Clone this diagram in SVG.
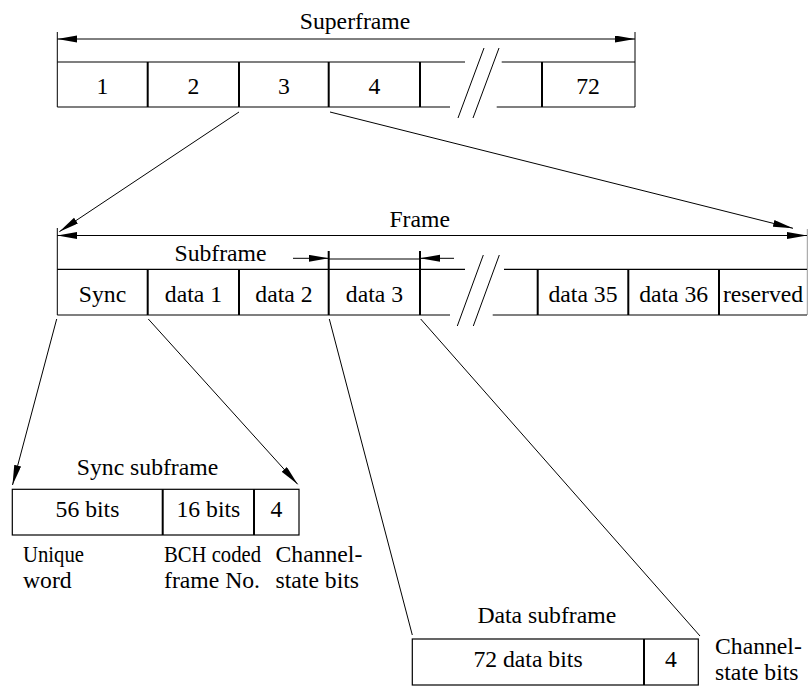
<svg xmlns="http://www.w3.org/2000/svg" width="808" height="686" viewBox="0 0 808 686">
<defs>
<marker id="ah" markerUnits="userSpaceOnUse" markerWidth="21" markerHeight="8" refX="20" refY="3.5" orient="auto-start-reverse">
<path d="M0,0 L20,3.5 L0,7 z" fill="#000"/>
</marker>
</defs>
<style>
text{font-family:"Liberation Serif","Times New Roman",serif;font-size:23.7px;fill:#000}
.c{text-anchor:middle}
.h{stroke:#000;stroke-width:1.2;fill:none}
.v{stroke:#000;stroke-width:2;fill:none}
.t{stroke:#000;stroke-width:1;fill:none}
</style>
<rect width="808" height="686" fill="#fff"/>

<g id="superframe">
<text class="c" x="355" y="29">Superframe</text>
<line class="t" x1="57.3" y1="32" x2="57.3" y2="107"/>
<line class="t" x1="635" y1="32" x2="635" y2="107"/>
<line class="t" x1="57.3" y1="39" x2="635" y2="39" marker-start="url(#ah)" marker-end="url(#ah)"/>
<path class="h" d="M57.3,62 H465 M501.7,62 H635 M57.3,107 H450 M496.7,107 H635"/>
<path class="t" d="M458,118 L484,48 M473,118 L499,48"/>
<path class="v" d="M147.7,62 V107 M239,62 V107 M328.7,62 V107 M420,62 V107 M542,62 V107"/>
<text class="c" x="102.5" y="94">1</text>
<text class="c" x="193.4" y="94">2</text>
<text class="c" x="283.9" y="94">3</text>
<text class="c" x="374.4" y="94">4</text>
<text class="c" x="588" y="94">72</text>
</g>

<g id="frame">
<text class="c" x="419.7" y="226.7">Frame</text>
<line class="t" x1="57.3" y1="228" x2="57.3" y2="315"/>
<line stroke="#999" stroke-width="1" x1="807.3" y1="229" x2="807.3" y2="315"/>
<line class="t" x1="57.3" y1="235.5" x2="807" y2="235.5" marker-start="url(#ah)" marker-end="url(#ah)"/>
<text class="c" x="220.5" y="261">Subframe</text>
<line class="t" x1="293" y1="258.3" x2="328.7" y2="258.3" marker-end="url(#ah)"/>
<line class="t" x1="328.7" y1="259" x2="420" y2="259"/>
<line class="t" x1="454" y1="258.3" x2="420" y2="258.3" marker-end="url(#ah)"/>
<path class="h" d="M57.3,269.3 H465 M504,269.3 H807 M57.3,315 H450 M492.7,315 H807"/>
<path class="t" d="M457.3,326 L483.3,255 M473.3,326 L499.3,255"/>
<path class="v" d="M147.7,269.3 V315 M239,269.3 V315 M328.7,251 V315 M420,251 V315 M537.7,269.3 V315 M628.3,269.3 V315 M719,269.3 V315"/>
<text class="c" x="102.5" y="302">Sync</text>
<text class="c" x="193.4" y="302">data 1</text>
<text class="c" x="283.9" y="302">data 2</text>
<text class="c" x="374.4" y="302">data 3</text>
<text class="c" x="583" y="302">data 35</text>
<text class="c" x="673.7" y="302">data 36</text>
<text class="c" x="763" y="302">reserved</text>
</g>

<g id="sync-subframe">
<text class="c" x="147.5" y="475">Sync subframe</text>
<rect class="h" x="12.3" y="489.3" width="286.7" height="45.7"/>
<path class="v" d="M162.7,489.3 V535 M254,489.3 V535"/>
<text class="c" x="87.5" y="517">56 bits</text>
<text class="c" x="208.4" y="517">16 bits</text>
<text class="c" x="276.5" y="517">4</text>
<text x="23" y="561.5" textLength="61" lengthAdjust="spacingAndGlyphs">Unique</text>
<text x="23" y="588.3">word</text>
<text x="164" y="561.5" textLength="97" lengthAdjust="spacingAndGlyphs">BCH coded</text>
<text x="164" y="588.3">frame No.</text>
<text x="275.5" y="561.5">Channel-</text>
<text x="275.5" y="588.3">state bits</text>
</g>

<g id="data-subframe">
<text class="c" x="546.8" y="623.3">Data subframe</text>
<rect class="h" x="412.3" y="639" width="286" height="46"/>
<path class="v" d="M644,639 V685"/>
<text class="c" x="528" y="667">72 data bits</text>
<text class="c" x="671" y="667">4</text>
<text x="715" y="654">Channel-</text>
<text x="715" y="680">state bits</text>
</g>

<g id="connectors">
<line class="t" x1="239" y1="112" x2="59.3" y2="231.7" marker-end="url(#ah)"/>
<line class="t" x1="330" y1="112" x2="793" y2="228.3" marker-end="url(#ah)"/>
<line class="t" x1="56.7" y1="319" x2="12.5" y2="485" marker-end="url(#ah)"/>
<line class="t" x1="148.3" y1="319" x2="297.7" y2="484.3" marker-end="url(#ah)"/>
<line class="t" x1="329.3" y1="319" x2="412.3" y2="635"/>
<line class="t" x1="420.7" y1="319" x2="700" y2="636"/>
</g>
</svg>
